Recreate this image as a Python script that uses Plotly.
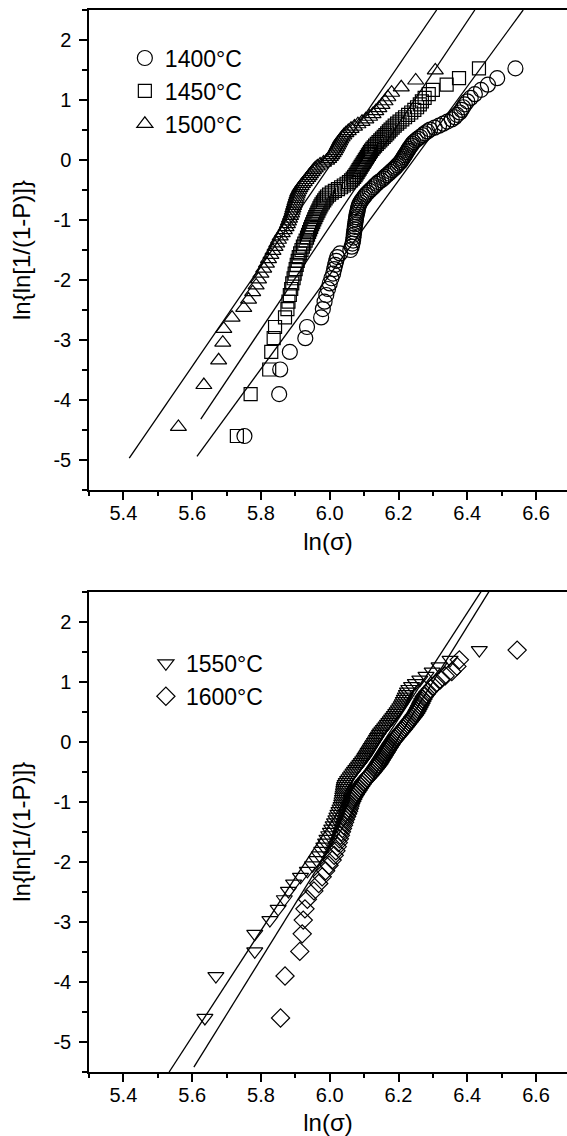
import plotly.graph_objects as go

# ---------------- data ----------------
# Weibull plotting positions ln{ln[1/(1-P)]} (99 ranks)
y_rank99 = [-4.600, -3.902, -3.491, -3.199, -2.970, -2.783, -2.623, -2.484, -2.361, -2.250,
            -2.150, -2.057, -1.971, -1.892, -1.817, -1.747, -1.680, -1.617, -1.557, -1.500,
            -1.445, -1.392, -1.342, -1.293, -1.246, -1.200, -1.156, -1.113, -1.071, -1.031,
            -0.991, -0.953, -0.915, -0.878, -0.842, -0.807, -0.772, -0.738, -0.705, -0.672,
            -0.639, -0.608, -0.576, -0.545, -0.514, -0.484, -0.454, -0.425, -0.396, -0.367,
            -0.338, -0.309, -0.281, -0.253, -0.225, -0.197, -0.170, -0.142, -0.115, -0.087,
            -0.060, -0.033, -0.006, 0.021, 0.049, 0.076, 0.103, 0.131, 0.158, 0.186,
            0.213, 0.241, 0.270, 0.298, 0.327, 0.356, 0.385, 0.415, 0.445, 0.476,
            0.507, 0.539, 0.572, 0.606, 0.640, 0.676, 0.713, 0.752, 0.792, 0.834,
            0.879, 0.927, 0.978, 1.034, 1.097, 1.169, 1.255, 1.364, 1.527]

# 1500 °C series has 85 ranks
y_rank85 = [-4.448, -3.750, -3.338, -3.044, -2.815, -2.627, -2.466, -2.326, -2.202, -2.091,
            -1.989, -1.895, -1.809, -1.728, -1.652, -1.581, -1.513, -1.449, -1.388, -1.329,
            -1.273, -1.219, -1.167, -1.117, -1.069, -1.022, -0.976, -0.932, -0.888, -0.846,
            -0.805, -0.765, -0.726, -0.687, -0.649, -0.612, -0.575, -0.539, -0.504, -0.469,
            -0.434, -0.400, -0.367, -0.333, -0.300, -0.267, -0.235, -0.202, -0.170, -0.138,
            -0.106, -0.075, -0.043, -0.011, 0.020, 0.052, 0.083, 0.115, 0.147, 0.179,
            0.211, 0.244, 0.277, 0.310, 0.343, 0.377, 0.412, 0.447, 0.483, 0.520,
            0.558, 0.596, 0.636, 0.678, 0.721, 0.766, 0.814, 0.865, 0.920, 0.979,
            1.046, 1.121, 1.211, 1.325, 1.494]

x_1400 = [5.752, 5.853, 5.856, 5.884, 5.929, 5.934, 5.975, 5.980, 5.985, 5.990,
          5.995, 6.000, 6.005, 6.010, 6.013, 6.016, 6.019, 6.022, 6.030, 6.060,
          6.064, 6.066, 6.068, 6.069, 6.070, 6.071, 6.072, 6.073, 6.074, 6.075,
          6.076, 6.077, 6.078, 6.080, 6.081, 6.082, 6.084, 6.086, 6.089, 6.093,
          6.097, 6.101, 6.105, 6.110, 6.116, 6.121, 6.127, 6.131, 6.137, 6.142,
          6.150, 6.156, 6.160, 6.166, 6.172, 6.177, 6.182, 6.188, 6.192, 6.197,
          6.201, 6.206, 6.209, 6.212, 6.215, 6.218, 6.221, 6.224, 6.227, 6.230,
          6.233, 6.237, 6.240, 6.244, 6.250, 6.256, 6.263, 6.270, 6.276, 6.284,
          6.292, 6.305, 6.318, 6.330, 6.342, 6.355, 6.364, 6.370, 6.378, 6.383,
          6.388, 6.393, 6.400, 6.410, 6.422, 6.440, 6.460, 6.487, 6.540]

x_1450 = [5.730, 5.770, 5.824, 5.830, 5.837, 5.841, 5.870, 5.877, 5.880, 5.884,
          5.888, 5.891, 5.895, 5.898, 5.901, 5.904, 5.907, 5.910, 5.914, 5.918,
          5.922, 5.926, 5.930, 5.934, 5.937, 5.940, 5.943, 5.946, 5.949, 5.952,
          5.955, 5.958, 5.961, 5.964, 5.967, 5.970, 5.973, 5.976, 5.980, 5.984,
          5.988, 5.992, 5.998, 6.006, 6.015, 6.024, 6.033, 6.041, 6.049, 6.056,
          6.062, 6.067, 6.071, 6.075, 6.078, 6.081, 6.084, 6.087, 6.090, 6.093,
          6.096, 6.099, 6.102, 6.105, 6.108, 6.111, 6.114, 6.117, 6.120, 6.124,
          6.128, 6.132, 6.137, 6.142, 6.147, 6.152, 6.157, 6.162, 6.167, 6.172,
          6.177, 6.183, 6.189, 6.196, 6.203, 6.211, 6.219, 6.228, 6.237, 6.246,
          6.254, 6.262, 6.268, 6.276, 6.288, 6.300, 6.340, 6.376, 6.434]

x_1500 = [5.560, 5.634, 5.677, 5.689, 5.692, 5.716, 5.750, 5.764, 5.776, 5.786,
          5.793, 5.800, 5.808, 5.816, 5.822, 5.829, 5.835, 5.841, 5.846, 5.851,
          5.856, 5.862, 5.868, 5.873, 5.877, 5.880, 5.883, 5.886, 5.889, 5.891,
          5.893, 5.895, 5.897, 5.899, 5.901, 5.903, 5.905, 5.907, 5.910, 5.913,
          5.917, 5.921, 5.926, 5.931, 5.936, 5.940, 5.944, 5.949, 5.953, 5.958,
          5.964, 5.972, 5.982, 5.991, 5.997, 6.002, 6.006, 6.010, 6.014, 6.017,
          6.020, 6.023, 6.026, 6.029, 6.032, 6.036, 6.041, 6.047, 6.054, 6.062,
          6.072, 6.082, 6.094, 6.105, 6.116, 6.126, 6.134, 6.143, 6.152, 6.161,
          6.169, 6.180, 6.208, 6.250, 6.307]

x_1550 = [5.637, 5.669, 5.782, 5.782, 5.826, 5.850, 5.868, 5.880, 5.895, 5.915,
          5.935, 5.950, 5.962, 5.970, 5.977, 5.983, 5.988, 5.992, 5.997, 6.002,
          6.006, 6.010, 6.014, 6.018, 6.021, 6.024, 6.027, 6.030, 6.033, 6.035,
          6.036, 6.037, 6.038, 6.039, 6.040, 6.041, 6.042, 6.043, 6.045, 6.048,
          6.052, 6.056, 6.060, 6.064, 6.068, 6.072, 6.076, 6.080, 6.084, 6.088,
          6.092, 6.096, 6.100, 6.103, 6.106, 6.109, 6.112, 6.115, 6.118, 6.121,
          6.124, 6.127, 6.130, 6.133, 6.136, 6.139, 6.142, 6.145, 6.148, 6.152,
          6.156, 6.160, 6.164, 6.168, 6.172, 6.176, 6.180, 6.184, 6.188, 6.192,
          6.196, 6.200, 6.204, 6.208, 6.211, 6.214, 6.217, 6.220, 6.223, 6.226,
          6.230, 6.238, 6.249, 6.262, 6.280, 6.298, 6.318, 6.350, 6.435]

x_1600 = [5.857, 5.870, 5.913, 5.920, 5.923, 5.928, 5.935, 5.954, 5.968, 5.978,
          5.988, 5.998, 6.007, 6.013, 6.018, 6.022, 6.025, 6.028, 6.031, 6.034,
          6.037, 6.040, 6.043, 6.046, 6.049, 6.052, 6.055, 6.057, 6.059, 6.061,
          6.064, 6.067, 6.070, 6.074, 6.078, 6.082, 6.086, 6.090, 6.094, 6.098,
          6.103, 6.108, 6.113, 6.118, 6.123, 6.127, 6.131, 6.135, 6.139, 6.143,
          6.146, 6.149, 6.152, 6.155, 6.158, 6.161, 6.164, 6.167, 6.170, 6.173,
          6.176, 6.179, 6.182, 6.186, 6.190, 6.194, 6.198, 6.202, 6.206, 6.210,
          6.214, 6.218, 6.222, 6.226, 6.230, 6.234, 6.238, 6.242, 6.246, 6.250,
          6.253, 6.256, 6.259, 6.262, 6.265, 6.268, 6.271, 6.275, 6.280, 6.286,
          6.293, 6.301, 6.310, 6.322, 6.336, 6.355, 6.370, 6.377, 6.545]

# Weibull fit lines (end points)
fit_1400_x = [5.614, 6.5625]
fit_1400_y = [-4.94, 2.5]
fit_1450_x = [5.625, 6.422]
fit_1450_y = [-4.32, 2.5]
fit_1500_x = [5.417, 6.311]
fit_1500_y = [-4.97, 2.5]
fit_1550_x = [5.533, 6.440]
fit_1550_y = [-5.5, 2.5]
fit_1600_x = [5.605, 6.463]
fit_1600_y = [-5.42, 2.5]

x_tickvals = [5.4, 5.6, 5.8, 6.0, 6.2, 6.4, 6.6]
x_ticktext = ["5.4", "5.6", "5.8", "6.0", "6.2", "6.4", "6.6"]
y_tickvals = [-5, -4, -3, -2, -1, 0, 1, 2]
y_ticktext = ["-5", "-4", "-3", "-2", "-1", "0", "1", "2"]

x_title = "ln(σ)"
y_title = "ln{ln[1/(1-P)]}"

# ---------------- figure ----------------
FONT = "Liberation Sans, Arial, sans-serif"
fig = go.Figure()

def scatter(x, y, name, symbol, size, xa, ya, legend, group):
    return go.Scatter(
        x=x, y=y, mode="markers", name=name, xaxis=xa, yaxis=ya,
        legend=legend, legendgroup=group,
        marker=dict(symbol=symbol, size=size, color="black", line=dict(width=1.2, color="black")),
    )

def fit(x, y, xa, ya):
    return go.Scatter(x=x, y=y, mode="lines", xaxis=xa, yaxis=ya, showlegend=False,
                      line=dict(color="black", width=1.3), hoverinfo="skip")

fig.add_trace(scatter(x_1400, y_rank99, "1400°C", "circle-open", 15, "x", "y", "legend", "a"))
fig.add_trace(scatter(x_1450, y_rank99, "1450°C", "square-open", 13, "x", "y", "legend", "b"))
fig.add_trace(scatter(x_1500, y_rank85, "1500°C", "triangle-up-open", 14, "x", "y", "legend", "c"))
fig.add_trace(fit(fit_1400_x, fit_1400_y, "x", "y"))
fig.add_trace(fit(fit_1450_x, fit_1450_y, "x", "y"))
fig.add_trace(fit(fit_1500_x, fit_1500_y, "x", "y"))

fig.add_trace(scatter(x_1550, y_rank99, "1550°C", "triangle-down-open", 14, "x2", "y2", "legend2", "d"))
fig.add_trace(scatter(x_1600, y_rank99, "1600°C", "diamond-open", 14, "x2", "y2", "legend2", "e"))
fig.add_trace(fit(fit_1550_x, fit_1550_y, "x2", "y2"))
fig.add_trace(fit(fit_1600_x, fit_1600_y, "x2", "y2"))

common = dict(showline=True, linecolor="black", linewidth=1.5, mirror=True,
              ticks="outside", ticklen=8, tickwidth=1.5, tickcolor="black",
              showgrid=False, zeroline=False,
              tickfont=dict(family=FONT, size=20, color="black"))

xcommon = dict(common, range=[5.3, 6.69], tickmode="array", tickvals=x_tickvals, ticktext=x_ticktext,
               ticklabelstandoff=-4,
               minor=dict(ticks="outside", ticklen=4, tickwidth=1.5, tickcolor="black",
                          dtick=0.1, tick0=5.3, showgrid=False),
               title=dict(text=x_title, font=dict(family=FONT, size=24, color="black"), standoff=10))
ycommon = dict(common, range=[-5.5, 2.5], tickmode="array", tickvals=y_tickvals, ticktext=y_ticktext,
               ticklabelstandoff=4,
               minor=dict(ticks="outside", ticklen=5, tickwidth=1.5, tickcolor="black",
                          dtick=0.5, tick0=0, showgrid=False),
               title=dict(text=y_title, font=dict(family=FONT, size=24, color="black"), standoff=16))

fig.update_layout(
    width=567, height=1136,
    margin=dict(l=89, r=0, t=10, b=64, autoexpand=False),
    paper_bgcolor="white", plot_bgcolor="white",
    font=dict(family=FONT, color="black"),
    xaxis=dict(xcommon, domain=[0, 1], anchor="y"),
    yaxis=dict(ycommon, domain=[0.548, 1], anchor="x"),
    xaxis2=dict(xcommon, domain=[0, 1], anchor="y2"),
    yaxis2=dict(ycommon, domain=[0, 0.4523], anchor="x2"),
    legend=dict(x=0.075, y=0.975, xanchor="left", yanchor="top", bgcolor="rgba(0,0,0,0)",
                font=dict(family=FONT, size=23, color="black"), tracegroupgap=8,
                traceorder="normal"),
    legend2=dict(x=0.119, y=0.405, xanchor="left", yanchor="top", bgcolor="rgba(0,0,0,0)",
                 font=dict(family=FONT, size=23, color="black"), tracegroupgap=8,
                 traceorder="normal"),
    showlegend=True,
)

fig.write_html("out.html")
